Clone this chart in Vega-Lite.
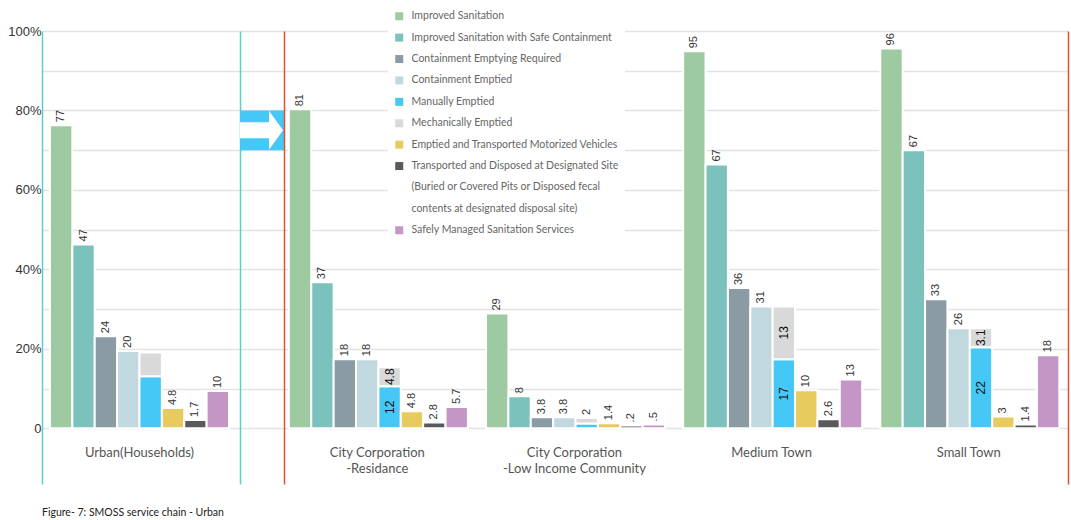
{
  "$schema": "https://vega.github.io/schema/vega-lite/v6.json",
  "background": "white",
  "padding": {"left": 7, "top": 5, "right": 0, "bottom": 0},
  "bounds": "flush",
  "spacing": 0,
  "config": {"view": {"stroke": null}},
  "title": {"text": "Figure- 7:  SMOSS service chain - Urban", "orient": "bottom", "anchor": "start", "frame": "group", "font": "Lato", "fontSize": 10.5, "fontWeight": "normal", "color": "#222", "offset": 24},
  "datasets": {
    "d": [
      {"g": "Urban(Households)", "s": "Improved Sanitation", "o": 1, "slot": 1, "v": 76.3, "t": "77", "i": ""},
      {"g": "Urban(Households)", "s": "Improved Sanitation with Safe Containment", "o": 2, "slot": 2, "v": 46.3, "t": "47", "i": ""},
      {"g": "Urban(Households)", "s": "Containment Emptying Required", "o": 3, "slot": 3, "v": 23.2, "t": "24", "i": ""},
      {"g": "Urban(Households)", "s": "Containment Emptied", "o": 4, "slot": 4, "v": 19.5, "t": "20", "i": ""},
      {"g": "Urban(Households)", "s": "Manually Emptied", "o": 5, "slot": 5, "v": 13.1, "t": "", "i": ""},
      {"g": "Urban(Households)", "s": "Mechanically Emptied", "o": 6, "slot": 5, "v": 6.0, "t": "", "i": ""},
      {"g": "Urban(Households)", "s": "Emptied and Transported Motorized Vehicles", "o": 7, "slot": 6, "v": 5.1, "t": "4.8", "i": ""},
      {"g": "Urban(Households)", "s": "Transported and Disposed at Designated Site", "o": 8, "slot": 7, "v": 2.1, "t": "1.7", "i": ""},
      {"g": "Urban(Households)", "s": "Safely Managed Sanitation Services", "o": 9, "slot": 8, "v": 9.4, "t": "10", "i": ""},

      {"g": "City Corporation -Residance", "s": "Improved Sanitation", "o": 1, "slot": 1, "v": 80.3, "t": "81", "i": ""},
      {"g": "City Corporation -Residance", "s": "Improved Sanitation with Safe Containment", "o": 2, "slot": 2, "v": 36.8, "t": "37", "i": ""},
      {"g": "City Corporation -Residance", "s": "Containment Emptying Required", "o": 3, "slot": 3, "v": 17.4, "t": "18", "i": ""},
      {"g": "City Corporation -Residance", "s": "Containment Emptied", "o": 4, "slot": 4, "v": 17.4, "t": "18", "i": ""},
      {"g": "City Corporation -Residance", "s": "Manually Emptied", "o": 5, "slot": 5, "v": 10.6, "t": "", "i": "12"},
      {"g": "City Corporation -Residance", "s": "Mechanically Emptied", "o": 6, "slot": 5, "v": 4.8, "t": "", "i": "4.8"},
      {"g": "City Corporation -Residance", "s": "Emptied and Transported Motorized Vehicles", "o": 7, "slot": 6, "v": 4.3, "t": "4.8", "i": ""},
      {"g": "City Corporation -Residance", "s": "Transported and Disposed at Designated Site", "o": 8, "slot": 7, "v": 1.5, "t": "2.8", "i": ""},
      {"g": "City Corporation -Residance", "s": "Safely Managed Sanitation Services", "o": 9, "slot": 8, "v": 5.4, "t": "5.7", "i": ""},

      {"g": "City Corporation -Low Income Community", "s": "Improved Sanitation", "o": 1, "slot": 1, "v": 28.9, "t": "29", "i": ""},
      {"g": "City Corporation -Low Income Community", "s": "Improved Sanitation with Safe Containment", "o": 2, "slot": 2, "v": 8.1, "t": "8", "i": ""},
      {"g": "City Corporation -Low Income Community", "s": "Containment Emptying Required", "o": 3, "slot": 3, "v": 2.8, "t": "3.8", "i": ""},
      {"g": "City Corporation -Low Income Community", "s": "Containment Emptied", "o": 4, "slot": 4, "v": 2.8, "t": "3.8", "i": ""},
      {"g": "City Corporation -Low Income Community", "s": "Manually Emptied", "o": 5, "slot": 5, "v": 1.2, "t": "", "i": ""},
      {"g": "City Corporation -Low Income Community", "s": "Mechanically Emptied", "o": 6, "slot": 5, "v": 1.4, "t": "2", "i": ""},
      {"g": "City Corporation -Low Income Community", "s": "Emptied and Transported Motorized Vehicles", "o": 7, "slot": 6, "v": 1.3, "t": "1.4", "i": ""},
      {"g": "City Corporation -Low Income Community", "s": "Transported and Disposed at Designated Site", "o": 8, "slot": 7, "v": 0.75, "t": ".2", "i": ""},
      {"g": "City Corporation -Low Income Community", "s": "Safely Managed Sanitation Services", "o": 9, "slot": 8, "v": 1.0, "t": ".5", "i": ""},

      {"g": "Medium Town", "s": "Improved Sanitation", "o": 1, "slot": 1, "v": 94.9, "t": "95", "i": ""},
      {"g": "Medium Town", "s": "Improved Sanitation with Safe Containment", "o": 2, "slot": 2, "v": 66.4, "t": "67", "i": ""},
      {"g": "Medium Town", "s": "Containment Emptying Required", "o": 3, "slot": 3, "v": 35.3, "t": "36", "i": ""},
      {"g": "Medium Town", "s": "Containment Emptied", "o": 4, "slot": 4, "v": 30.7, "t": "31", "i": ""},
      {"g": "Medium Town", "s": "Manually Emptied", "o": 5, "slot": 5, "v": 17.4, "t": "", "i": "17"},
      {"g": "Medium Town", "s": "Mechanically Emptied", "o": 6, "slot": 5, "v": 13.3, "t": "", "i": "13"},
      {"g": "Medium Town", "s": "Emptied and Transported Motorized Vehicles", "o": 7, "slot": 6, "v": 9.6, "t": "10", "i": ""},
      {"g": "Medium Town", "s": "Transported and Disposed at Designated Site", "o": 8, "slot": 7, "v": 2.3, "t": "2.6", "i": ""},
      {"g": "Medium Town", "s": "Safely Managed Sanitation Services", "o": 9, "slot": 8, "v": 12.3, "t": "13", "i": ""},

      {"g": "Small Town", "s": "Improved Sanitation", "o": 1, "slot": 1, "v": 95.6, "t": "96", "i": ""},
      {"g": "Small Town", "s": "Improved Sanitation with Safe Containment", "o": 2, "slot": 2, "v": 70.0, "t": "67", "i": ""},
      {"g": "Small Town", "s": "Containment Emptying Required", "o": 3, "slot": 3, "v": 32.5, "t": "33", "i": ""},
      {"g": "Small Town", "s": "Containment Emptied", "o": 4, "slot": 4, "v": 25.2, "t": "26", "i": ""},
      {"g": "Small Town", "s": "Manually Emptied", "o": 5, "slot": 5, "v": 20.4, "t": "", "i": "22"},
      {"g": "Small Town", "s": "Mechanically Emptied", "o": 6, "slot": 5, "v": 4.8, "t": "", "i": "3.1"},
      {"g": "Small Town", "s": "Emptied and Transported Motorized Vehicles", "o": 7, "slot": 6, "v": 3.0, "t": "3", "i": ""},
      {"g": "Small Town", "s": "Transported and Disposed at Designated Site", "o": 8, "slot": 7, "v": 1.0, "t": "1.4", "i": ""},
      {"g": "Small Town", "s": "Safely Managed Sanitation Services", "o": 9, "slot": 8, "v": 18.4, "t": "18", "i": ""}
    ]
  },
  "resolve": {"scale": {"color": "shared"}},
  "hconcat": [
    {
      "width": 198,
      "height": 453,
      "data": {"name": "d"},
      "transform": [{"filter": "datum.g == 'Urban(Households)'"}],
      "layer": [
        {
          "mark": {"type": "bar", "stroke": "white", "strokeWidth": 2},
          "encoding": {
            "x": {"field": "g", "type": "nominal", "title": null,
              "scale": {"paddingInner": 0, "paddingOuter": 0.053, "align": 0.42},
              "axis": {"domain": false, "ticks": false, "labelPadding": -38, "labelAngle": 0, "labelBaseline": "top", "labelFont": "Lato", "labelFontSize": 13, "labelColor": "#555", "labelLineHeight": 16, "labelLimit": 300,
                "labelExpr": "indexof(datum.label, ' -') > 0 ? [substring(datum.label, 0, indexof(datum.label, ' -')), substring(datum.label, indexof(datum.label, ' -') + 1)] : datum.label"}},
            "xOffset": {"field": "slot", "type": "ordinal", "scale": {"paddingInner": 0, "paddingOuter": 0}},
            "y": {"field": "v", "type": "quantitative", "stack": "zero",
              "scale": {"domain": [-14, 100], "nice": false, "zero": false},
              "axis": {"title": null, "values": [0, 10, 20, 30, 40, 50, 60, 70, 80, 90, 100], "ticks": false, "labelPadding": 1, "labelFont": "Liberation Sans", "labelFontSize": 13, "labelColor": "#333",
                "labelExpr": "datum.value == 0 ? '0' : (datum.value % 20 == 0 ? datum.value + '%' : '')",
                "domain": true, "domainColor": "#5BCFC9", "domainWidth": 1.5, "grid": true, "gridColor": "#e3e3e3", "gridWidth": 1.5}},
            "color": {"field": "s", "type": "nominal",
              "scale": {"domain": ["Improved Sanitation", "Improved Sanitation with Safe Containment", "Containment Emptying Required", "Containment Emptied", "Manually Emptied", "Mechanically Emptied", "Emptied and Transported Motorized Vehicles", "Transported and Disposed at Designated Site", "(Buried or Covered Pits or Disposed fecal", "contents at designated disposal site)", "Safely Managed Sanitation Services"],
                "range": ["#9DCAA0", "#7BC1BC", "#8A9BA4", "#C1D8DF", "#45C8F5", "#D9D9D9", "#E8CB5F", "#58595B", "#ffffff", "#ffffff", "#C396C6"]},
              "legend": {"orient": "none", "legendX": 346, "legendY": -26, "title": null, "symbolType": "square", "symbolSize": 64, "symbolStrokeWidth": 0, "symbolOpacity": 1,
                "labelFont": "Lato", "labelFontSize": 10.5, "labelColor": "#666", "labelLimit": 400, "rowPadding": 10.4, "fillColor": "white", "padding": 6, "labelOffset": 7}},
            "order": {"field": "o", "type": "quantitative"}
          }
        },
        {
          "mark": {"type": "text", "angle": 270, "align": "left", "baseline": "middle", "dx": 3, "font": "Liberation Sans", "fontSize": 11, "color": "#333"},
          "encoding": {
            "x": {"field": "g", "type": "nominal"},
            "xOffset": {"field": "slot", "type": "ordinal"},
            "y": {"field": "v", "type": "quantitative", "stack": "zero"},
            "detail": {"field": "s"},
            "order": {"field": "o", "type": "quantitative"},
            "text": {"field": "t"}
          }
        }
      ]
    },
    {
      "width": 44,
      "height": 453,
      "data": {"values": [{"a": 80, "b": 70, "c": 75}]},
      "layer": [
        {
          "mark": {"type": "rect", "color": "#45C8F5"},
          "encoding": {
            "y": {"field": "a", "type": "quantitative", "scale": {"domain": [-14, 100], "nice": false, "zero": false},
              "axis": {"title": null, "values": [0, 10, 20, 30, 40, 50, 60, 70, 80, 90, 100], "ticks": false, "labels": false, "domain": true, "domainColor": "#5BCFC9", "domainWidth": 1.5, "grid": true, "gridColor": "#e3e3e3", "gridWidth": 1.5}},
            "y2": {"field": "b"}
          }
        },
        {
          "mark": {"type": "point", "shape": "M -1 -0.364 L 0.318 -0.364 L 0.318 -0.886 L 0.955 0 L 0.318 0.886 L 0.318 0.364 L -1 0.364 Z", "size": 1936, "filled": true, "color": "white", "opacity": 1, "strokeWidth": 0},
          "encoding": {
            "y": {"field": "c", "type": "quantitative"}
          }
        }
      ]
    },
    {
      "width": 784,
      "height": 453,
      "data": {"name": "d"},
      "transform": [{"filter": "datum.g != 'Urban(Households)'"}],
      "layer": [
        {
          "mark": {"type": "bar", "stroke": "white", "strokeWidth": 2},
          "encoding": {
            "x": {"field": "g", "type": "nominal", "title": null,
              "sort": ["City Corporation -Residance", "City Corporation -Low Income Community", "Medium Town", "Small Town"],
              "scale": {"paddingInner": 0.103, "paddingOuter": 0.04, "align": 0.31},
              "axis": {"domain": false, "ticks": false, "labelPadding": -38, "labelAngle": 0, "labelBaseline": "top", "labelFont": "Lato", "labelFontSize": 13, "labelColor": "#555", "labelLineHeight": 16, "labelLimit": 300,
                "labelExpr": "indexof(datum.label, ' -') > 0 ? [substring(datum.label, 0, indexof(datum.label, ' -')), substring(datum.label, indexof(datum.label, ' -') + 1)] : datum.label"}},
            "xOffset": {"field": "slot", "type": "ordinal", "scale": {"paddingInner": 0, "paddingOuter": 0}},
            "y": {"field": "v", "type": "quantitative", "stack": "zero",
              "scale": {"domain": [-14, 100], "nice": false, "zero": false},
              "axis": {"title": null, "orient": "left", "values": [0, 10, 20, 30, 40, 50, 60, 70, 80, 90, 100], "ticks": false, "labels": false,
                "domain": true, "domainColor": "#E2502F", "domainWidth": 1.5, "grid": true, "gridColor": "#e3e3e3", "gridWidth": 1.5}},
            "color": {"field": "s", "type": "nominal",
              "scale": {"domain": ["Improved Sanitation", "Improved Sanitation with Safe Containment", "Containment Emptying Required", "Containment Emptied", "Manually Emptied", "Mechanically Emptied", "Emptied and Transported Motorized Vehicles", "Transported and Disposed at Designated Site", "(Buried or Covered Pits or Disposed fecal", "contents at designated disposal site)", "Safely Managed Sanitation Services"],
                "range": ["#9DCAA0", "#7BC1BC", "#8A9BA4", "#C1D8DF", "#45C8F5", "#D9D9D9", "#E8CB5F", "#58595B", "#ffffff", "#ffffff", "#C396C6"]},
              "legend": {"orient": "none", "legendX": 346, "legendY": -26, "title": null, "symbolType": "square", "symbolSize": 64, "symbolStrokeWidth": 0, "symbolOpacity": 1,
                "labelFont": "Lato", "labelFontSize": 10.5, "labelColor": "#666", "labelLimit": 400, "rowPadding": 10.4, "fillColor": "white", "padding": 6, "labelOffset": 7}},
            "order": {"field": "o", "type": "quantitative"}
          }
        },
        {
          "mark": {"type": "text", "angle": 270, "align": "left", "baseline": "middle", "dx": 3, "font": "Liberation Sans", "fontSize": 11, "color": "#333"},
          "encoding": {
            "x": {"field": "g", "type": "nominal", "sort": ["City Corporation -Residance", "City Corporation -Low Income Community", "Medium Town", "Small Town"]},
            "xOffset": {"field": "slot", "type": "ordinal"},
            "y": {"field": "v", "type": "quantitative", "stack": "zero"},
            "detail": {"field": "s"},
            "order": {"field": "o", "type": "quantitative"},
            "text": {"field": "t"}
          }
        },
        {
          "mark": {"type": "text", "angle": 270, "align": "center", "baseline": "middle", "font": "Liberation Sans", "fontSize": 12, "color": "#111"},
          "encoding": {
            "x": {"field": "g", "type": "nominal", "sort": ["City Corporation -Residance", "City Corporation -Low Income Community", "Medium Town", "Small Town"]},
            "xOffset": {"field": "slot", "type": "ordinal"},
            "y": {"field": "v", "type": "quantitative", "stack": "zero", "bandPosition": 0.5},
            "detail": {"field": "s"},
            "order": {"field": "o", "type": "quantitative"},
            "text": {"field": "i"}
          }
        }
      ]
    },
    {
      "width": 1,
      "height": 453,
      "data": {"values": [{"c": 50}]},
      "mark": {"type": "point", "opacity": 0},
      "encoding": {
        "y": {"field": "c", "type": "quantitative", "scale": {"domain": [-14, 100], "nice": false, "zero": false},
          "axis": {"title": null, "values": [0], "ticks": false, "labels": false, "grid": false, "domain": true, "domainColor": "#E2502F", "domainWidth": 1.5}}
      }
    }
  ]
}
